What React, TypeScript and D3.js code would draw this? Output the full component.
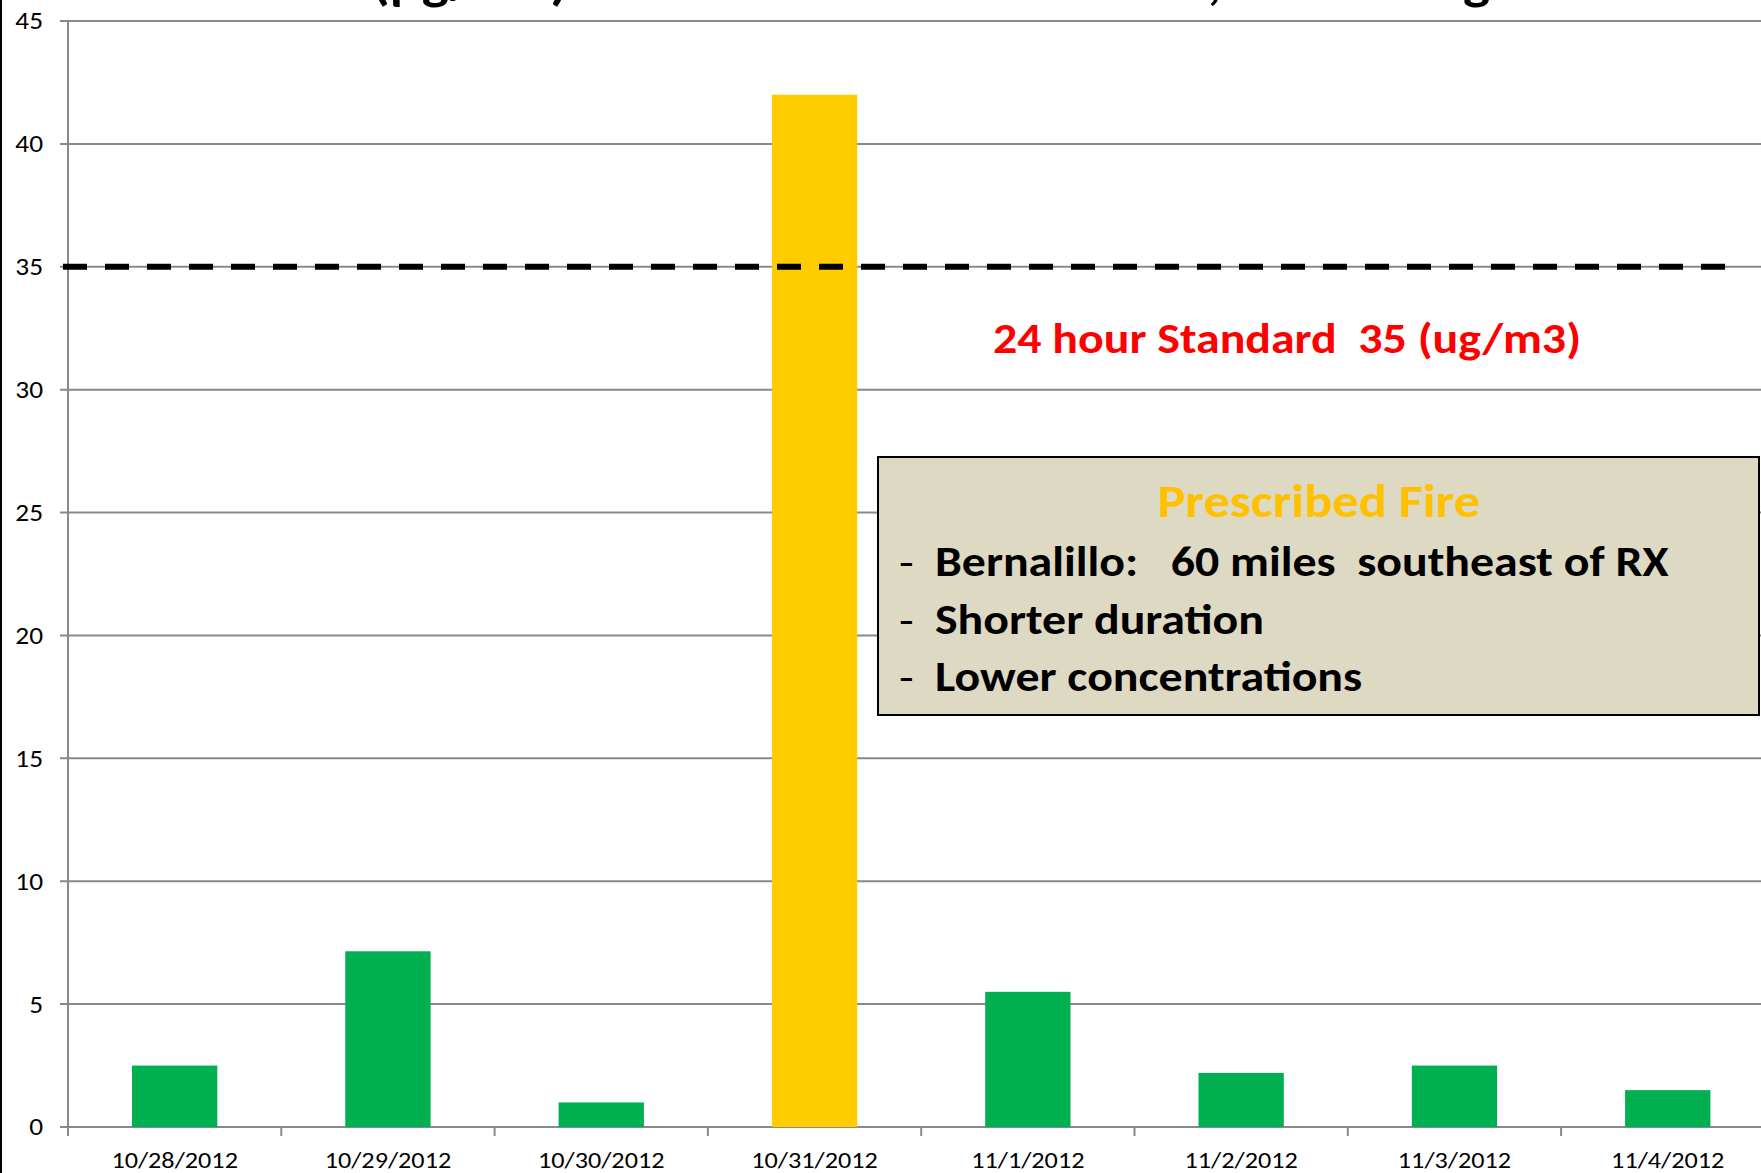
import React, { useLayoutEffect } from "react";
import * as d3 from "d3";

const dates = ["10/28/2012", "10/29/2012", "10/30/2012", "10/31/2012", "11/1/2012", "11/2/2012", "11/3/2012", "11/4/2012"];
const pm25 = [2.5, 7.15, 1.0, 42.0, 5.5, 2.2, 2.5, 1.5];
const fireDate = "10/31/2012";
const yTicks = [0, 5, 10, 15, 20, 25, 30, 35, 40, 45];
const standardValue = 35;
const standardLabel = "24 hour Standard  35 (ug/m3)";
const boxTitle = "Prescribed Fire";
const boxLines = ["Bernalillo:   60 miles  southeast of RX", "Shorter duration", "Lower concentrations"];
const titleParts = ["PM2.5 (µg/m3)", "Santa Fe Monitor,", "Rx Burning"];

const W = 1761;
const H = 1173;
const FONT = "Carlito, Lato, 'Open Sans', sans-serif";
const SX = 1.14;

type TProps = {
  x: number;
  y: number;
  size: number;
  anchor?: "start" | "middle" | "end";
  bold?: boolean;
  fill?: string;
  dy?: string;
  children: React.ReactNode;
};

function T({ x, y, size, anchor = "start", bold = false, fill = "#000", dy, children }: TProps) {
  return (
    <text
      transform={`translate(${x},${y}) scale(${SX},1)`}
      textAnchor={anchor}
      fontSize={size}
      fontWeight={bold ? "bold" : "normal"}
      fill={fill}
      dy={dy}
      style={{ whiteSpace: "pre" }}
    >
      {children}
    </text>
  );
}

export default function App() {
  useLayoutEffect(() => {
    document.body.style.margin = "0";
    document.body.style.overflow = "hidden";
  }, []);

  const plotLeft = 68;
  const step = 213.3;
  const plotRight = plotLeft + step * dates.length;
  const y = d3.scaleLinear().domain([0, 45]).range([1127, 21]);
  const xCat = d3.scaleBand<string>().domain(dates).range([plotLeft, plotRight]).padding(0);
  const xBar = d3.scaleBand<string>().domain(dates).range([plotLeft, plotRight]).paddingInner(0.6).paddingOuter(0.3);

  const gridColor = "#898989";
  const y0 = y(0);
  const ys = y(standardValue);

  const boxX = 878, boxY = 457, boxW = 881, boxH = 258;

  return (
    <svg width={W} height={H} style={{ display: "block", background: "#fff" }} fontFamily={FONT}>
      {/* title fragments clipped at the top */}
      <T x={568} y={-1} size={50} anchor="end" bold>{titleParts[0]}</T>
      <T x={1222} y={-1} size={50} anchor="end" bold>{titleParts[1]}</T>
      <T x={1490} y={-1} size={50} anchor="end" bold>{titleParts[2]}</T>

      {/* left border */}
      <line x1={1} x2={1} y1={0} y2={H} stroke="#000" strokeWidth={2} />

      {/* gridlines & y ticks */}
      {yTicks.map((t) => (
        <g key={t}>
          <line x1={plotLeft - 8} x2={W} y1={y(t)} y2={y(t)} stroke={gridColor} strokeWidth={2} />
          <T x={43} y={y(t)} size={24} anchor="end" dy="0.35em">{t}</T>
        </g>
      ))}
      {/* y axis */}
      <line x1={plotLeft} x2={plotLeft} y1={y(45)} y2={y0} stroke={gridColor} strokeWidth={2} />

      {/* x ticks */}
      {dates.map((d) => (
        <line key={d} x1={xCat(d)!} x2={xCat(d)!} y1={y0} y2={y0 + 9} stroke={gridColor} strokeWidth={2} />
      ))}

      {/* bars */}
      {dates.map((d, i) => (
        <rect
          key={d}
          x={xBar(d)!}
          width={xBar.bandwidth()}
          y={y(pm25[i])}
          height={y0 - y(pm25[i])}
          fill={d === fireDate ? "#FFCC00" : "#00B050"}
        />
      ))}

      {/* x labels */}
      {dates.map((d) => (
        <T key={d} x={xCat(d)! + xCat.bandwidth() / 2} y={1168} size={23} anchor="middle">{d}</T>
      ))}

      {/* standard line */}
      <line x1={63} x2={1726} y1={ys} y2={ys} stroke="#000" strokeWidth={6} strokeDasharray="24 18" />
      <T x={993} y={353} size={42} bold fill="#FF0000">{standardLabel}</T>

      {/* annotation box */}
      <rect x={boxX} y={boxY} width={boxW} height={boxH} fill="#DDD9C3" stroke="#000" strokeWidth={2} />
      <T x={boxX + boxW / 2} y={517} size={46} anchor="middle" bold fill="#FFC000">{boxTitle}</T>
      {boxLines.map((l, i) => (
        <g key={l}>
          <T x={899} y={576 + i * 57.5} size={42}>-</T>
          <T x={935} y={576 + i * 57.5} size={42} bold>{l}</T>
        </g>
      ))}
    </svg>
  );
}
